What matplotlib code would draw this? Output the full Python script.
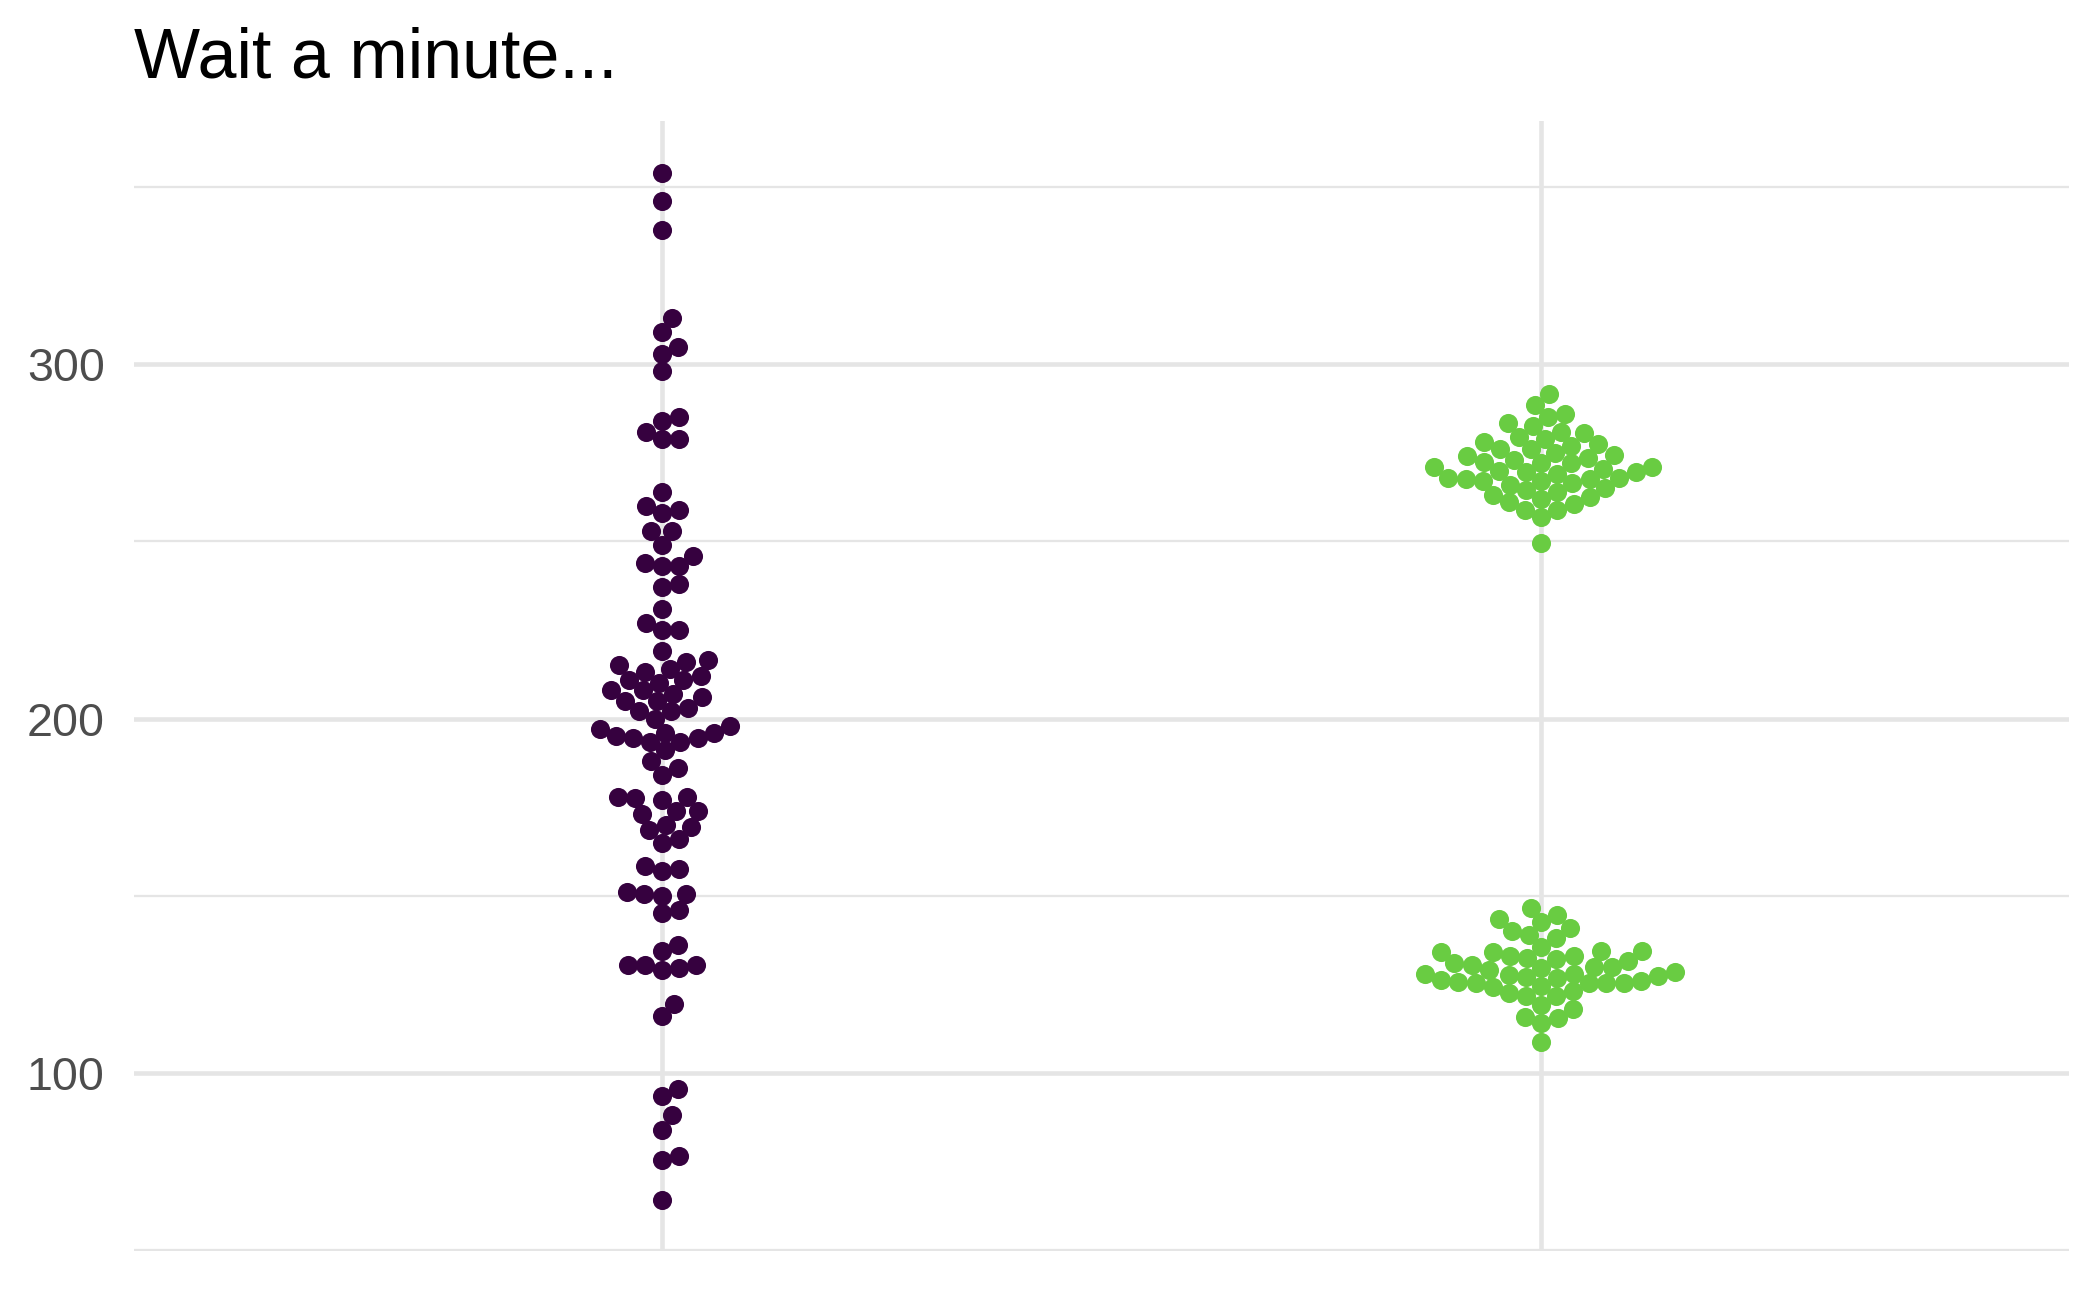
import numpy as np
import matplotlib
matplotlib.use("Agg")
import matplotlib.pyplot as plt

# values, one list per group
group_a = [
    354, 346, 338, 313, 309, 305, 303, 298, 285, 284, 281, 279, 279,
    264, 260, 259, 258, 253, 253, 249, 246, 244, 243, 243, 237, 238,
    231, 227, 225, 225,
    219, 216, 215, 214, 213, 212, 211, 211, 208, 208, 207,
    206, 205, 205, 203, 202, 202, 200, 198, 216.5, 210,
    196, 194.5, 193.5, 193.5, 194.5, 196, 197, 195, 191, 188, 186, 184,
    178, 178, 177, 177.5, 174, 173, 174, 169.5, 170, 168.5, 165, 166,
    158.5, 157, 157.5,
    150.5, 150, 150.5, 151, 145, 146,
    134.5, 136,
    130.5, 130.5, 129, 129.5, 130.5,
    119.5, 116,
    95.5, 93.5, 88, 84, 75.5, 76.5, 64,
]
group_b_upper = [
    291.5, 288.5, 286, 285, 282.5, 280.5, 279.5, 277, 276, 277.5, 276, 274.5,
    272, 272, 272.5, 271,
    269.5, 269.5, 268, 268, 267.5, 267.5, 267, 267,
    283.5, 281, 279, 278, 275, 274, 273.5, 273, 271, 270, 269, 266, 265, 264,
    263, 262, 261, 270.5, 266.5, 264.5, 262.5, 260.5,
    259, 259, 257, 249.5,
]
group_b_lower = [
    146.5, 144.5, 143.5, 142.5, 141, 140, 139, 138, 135.5,
    134.5, 134.5, 134, 134, 133, 133, 132.5, 132, 131.5,
    127.5, 127.2, 127, 126.8, 126.2, 126, 125.7, 125.5, 125.5, 125.3, 125.3,
    124.2, 124.5,
    130, 130, 129, 128.5, 128, 128, 131, 130.5, 129.5, 123, 122.5,
    121.8, 121.7, 119.2, 118, 115.7, 115.5, 114.2, 108.6,
]
group_b = group_b_upper + group_b_lower

colors = ["#36013F", "#69CC42"]
title = "Wait a minute..."
y_ticks = [100, 200, 300]
y_minor = [50, 150, 250, 350]


def swarm_offsets(values, d, px_per_unit):
    # simple beeswarm: place points in ascending order, as close to the centre as possible
    ys = np.asarray(values, dtype=float) * px_per_unit
    order = np.argsort(ys, kind="stable")
    px_list, py_list = [], []
    out = np.zeros(len(ys))
    for i in order:
        y = ys[i]
        cands = [0.0]
        for px, py in zip(px_list, py_list):
            dy = abs(y - py)
            if dy < d:
                w = np.sqrt(d * d - dy * dy)
                cands += [px + w, px - w]
        cands.sort(key=lambda c: (round(abs(c), 6), -c))
        pxa = np.array(px_list)
        pya = np.array(py_list)
        chosen = 0.0
        for c in cands:
            if len(pxa) == 0 or np.all((c - pxa) ** 2 + (y - pya) ** 2 >= d * d - 1e-6):
                chosen = c
                break
        out[i] = chosen
        px_list.append(chosen)
        py_list.append(y)
    return out


W, H, DPI = 2100, 1297, 300
fig = plt.figure(figsize=(W / DPI, H / DPI), dpi=DPI)
left, right, top, bottom = 134, 2069, 120.5, 1251
ax = fig.add_axes([left / W, 1 - bottom / H, (right - left) / W, (bottom - top) / H])

ylim = (49.72, 368.8)
xlim = (0.4, 2.6)
ax.set_xlim(*xlim)
ax.set_ylim(*ylim)

px_per_y = (bottom - top) / (ylim[1] - ylim[0])
px_per_x = (right - left) / (xlim[1] - xlim[0])
spacing = 17.5  # pixels between neighbouring dots

for k, vals in enumerate([group_a, group_b]):
    off = swarm_offsets(vals, spacing, px_per_y) / px_per_x
    ax.scatter(np.full(len(vals), k + 1) + off, vals, s=21, color=colors[k],
               linewidths=0, zorder=3)

# grid like theme_minimal
grid_col = "#E5E5E5"
for v in y_ticks:
    ax.axhline(v, color=grid_col, lw=1.1, zorder=0)
for v in y_minor:
    ax.axhline(v, color=grid_col, lw=0.55, zorder=0)
for v in [1, 2]:
    ax.axvline(v, color=grid_col, lw=1.1, zorder=0)

ax.set_yticks(y_ticks)
ax.set_yticklabels([str(t) for t in y_ticks])
ax.set_xticks([])
ax.tick_params(axis="y", length=0, pad=7, labelsize=11.2, labelcolor="#4D4D4D")
for lab in ax.get_yticklabels():
    lab.set_fontfamily("Liberation Sans")
for s in ax.spines.values():
    s.set_visible(False)

fig.text(left / W, 1 - 78 / H, title, fontsize=16.8, family="Liberation Sans",
         ha="left", va="baseline", color="black")

fig.savefig("out.png", dpi=DPI)
